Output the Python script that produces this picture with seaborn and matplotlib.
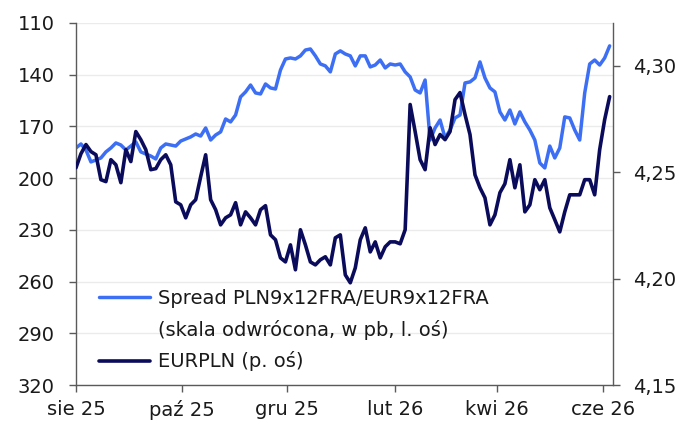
import numpy as np
import pandas as pd
import matplotlib
matplotlib.use("Agg")
import matplotlib.pyplot as plt
from matplotlib.lines import Line2D
from matplotlib.ticker import FuncFormatter
import seaborn as sns

# ---- data ----
start_date = "2025-08-01"
end_date = "2026-06-05"

spread = [182.5, 180.2, 183.7, 190.6, 189.5, 188.3, 184.8, 182.5, 179.6, 180.8,
          183.7, 181.4, 179.0, 184.8, 186.0, 187.2, 188.9, 182.5, 180.2, 180.8,
          181.4, 178.5, 177.3, 176.1, 174.4, 175.6, 170.9, 177.9, 175.0, 173.2,
          165.7, 167.4, 163.4, 152.9, 150.0, 146.0, 150.6, 151.2, 145.4, 147.7,
          148.3, 137.3, 130.9, 130.3, 130.9, 129.1, 125.7, 125.1, 129.1, 133.8,
          134.9, 138.4, 128.0, 126.2, 128.0, 129.1, 134.9, 129.1, 129.1, 135.5,
          134.4, 131.5, 136.1, 133.8, 134.4, 133.8, 138.4, 141.3, 148.9, 150.6,
          143.1, 177.9, 170.9, 166.3, 176.7, 172.1, 165.1, 163.4, 144.8, 144.2,
          141.9, 132.6, 141.9, 147.7, 150.0, 161.6, 166.3, 160.5, 168.6, 161.6,
          167.4, 172.1, 177.9, 191.2, 194.1, 181.4, 188.3, 182.5, 164.5, 165.1,
          172.1, 177.9, 150.6, 133.8, 131.5, 134.4, 130.3, 123.3]

eurpln = [4.2520, 4.2586, 4.2629, 4.2596, 4.2581, 4.2464, 4.2455, 4.2558, 4.2534, 4.2450,
          4.2605, 4.2549, 4.2690, 4.2652, 4.2605, 4.2511, 4.2516, 4.2558, 4.2581, 4.2534,
          4.2360, 4.2346, 4.2285, 4.2346, 4.2370, 4.2478, 4.2581, 4.2370, 4.2323, 4.2252,
          4.2285, 4.2299, 4.2356, 4.2252, 4.2313, 4.2285, 4.2252, 4.2323, 4.2342, 4.2205,
          4.2182, 4.2097, 4.2078, 4.2158, 4.2041, 4.2229, 4.2158, 4.2078, 4.2064, 4.2088,
          4.2102, 4.2064, 4.2191, 4.2205, 4.2017, 4.1980, 4.2050, 4.2182, 4.2238, 4.2125,
          4.2172, 4.2097, 4.2149, 4.2172, 4.2172, 4.2163, 4.2229, 4.2817, 4.2690, 4.2558,
          4.2511, 4.2708, 4.2629, 4.2676, 4.2652, 4.2690, 4.2840, 4.2873, 4.2770, 4.2676,
          4.2487, 4.2426, 4.2379, 4.2252, 4.2299, 4.2403, 4.2445, 4.2558, 4.2426, 4.2534,
          4.2313, 4.2346, 4.2464, 4.2417, 4.2464, 4.2332, 4.2276, 4.2219, 4.2313, 4.2393,
          4.2393, 4.2393, 4.2464, 4.2464, 4.2393, 4.2605, 4.2746, 4.2854]

left_ticks = [110, 140, 170, 200, 230, 260, 290, 320]
right_ticks = [4.15, 4.20, 4.25, 4.30]
x_tick_dates = ["2025-08-01", "2025-10-01", "2025-12-01", "2026-02-01", "2026-04-01", "2026-06-01"]
x_tick_labels = ["sie 25", "paź 25", "gru 25", "lut 26", "kwi 26", "cze 26"]
label_spread_1 = "Spread PLN9x12FRA/EUR9x12FRA"
label_spread_2 = "(skala odwrócona, w pb, l. oś)"
label_eur = "EURPLN (p. oś)"

dates = pd.date_range(start_date, end_date, periods=len(spread))
df = pd.DataFrame({"date": dates, "spread": spread, "eurpln": eurpln})

# ---- style ----
sns.set_theme(style="white")
plt.rcParams["font.family"] = ["DejaVu Sans"]
plt.rcParams["font.size"] = 14

c_blue = "#3d6ff5"
c_navy = "#0b0b5c"
c_axis = "#5a5a5a"
c_text = "#1a1a1a"
fs = 14

fig = plt.figure(figsize=(6.92, 4.21), dpi=100)
ax = fig.add_axes([0.1098, 0.0855, 0.7762, 0.86])
ax2 = ax.twinx()

sns.lineplot(data=df, x="date", y="spread", ax=ax, color=c_blue, linewidth=2.5,
             legend=False)
sns.lineplot(data=df, x="date", y="eurpln", ax=ax2, color=c_navy, linewidth=2.6,
             legend=False)

ax.set_ylim(320, 110)
ax.set_yticks(left_ticks)
ax.set_yticklabels([str(t) for t in left_ticks])
ax2.set_ylim(4.15, 4.32)
ax2.set_yticks(right_ticks)
ax2.yaxis.set_major_formatter(FuncFormatter(lambda v, p: f"{v:.2f}".replace(".", ",")))

ax.set_xlim(pd.Timestamp(start_date), pd.Timestamp("2026-06-07"))
ax.set_xticks(pd.to_datetime(x_tick_dates))
ax.set_xticklabels(x_tick_labels)

ax.grid(axis="y", color="#ebebeb", linewidth=1.0)
ax.set_axisbelow(True)
ax.set_xlabel("")
ax.set_ylabel("")
ax2.set_ylabel("")

for a in (ax, ax2):
    a.spines["top"].set_visible(False)
    for s in ("left", "right", "bottom"):
        a.spines[s].set_color(c_axis)
        a.spines[s].set_linewidth(1.0)
    a.tick_params(axis="both", direction="out", length=5, width=1.0, color=c_axis,
                  labelsize=fs, labelcolor=c_text)
ax.spines["right"].set_visible(False)
ax2.spines["left"].set_visible(False)
ax2.spines["bottom"].set_visible(False)
ax.tick_params(axis="y", left=True, pad=10.5)
ax.tick_params(axis="x", bottom=True, pad=6)
ax2.tick_params(axis="y", right=True, pad=9.5)

handles = [Line2D([], [], color=c_blue, linewidth=2.5),
           Line2D([], [], color="none", linewidth=0),
           Line2D([], [], color=c_navy, linewidth=2.6)]
labels = [label_spread_1, label_spread_2, label_eur]
leg = ax2.legend(handles, labels, loc="lower left", bbox_to_anchor=(0.018, 0.0),
                 frameon=False, fontsize=fs, handlelength=2.6, handletextpad=0.4,
                 labelspacing=0.6, borderaxespad=0.3)
for t in leg.get_texts():
    t.set_color(c_text)

fig.savefig("out.png", dpi=100)
